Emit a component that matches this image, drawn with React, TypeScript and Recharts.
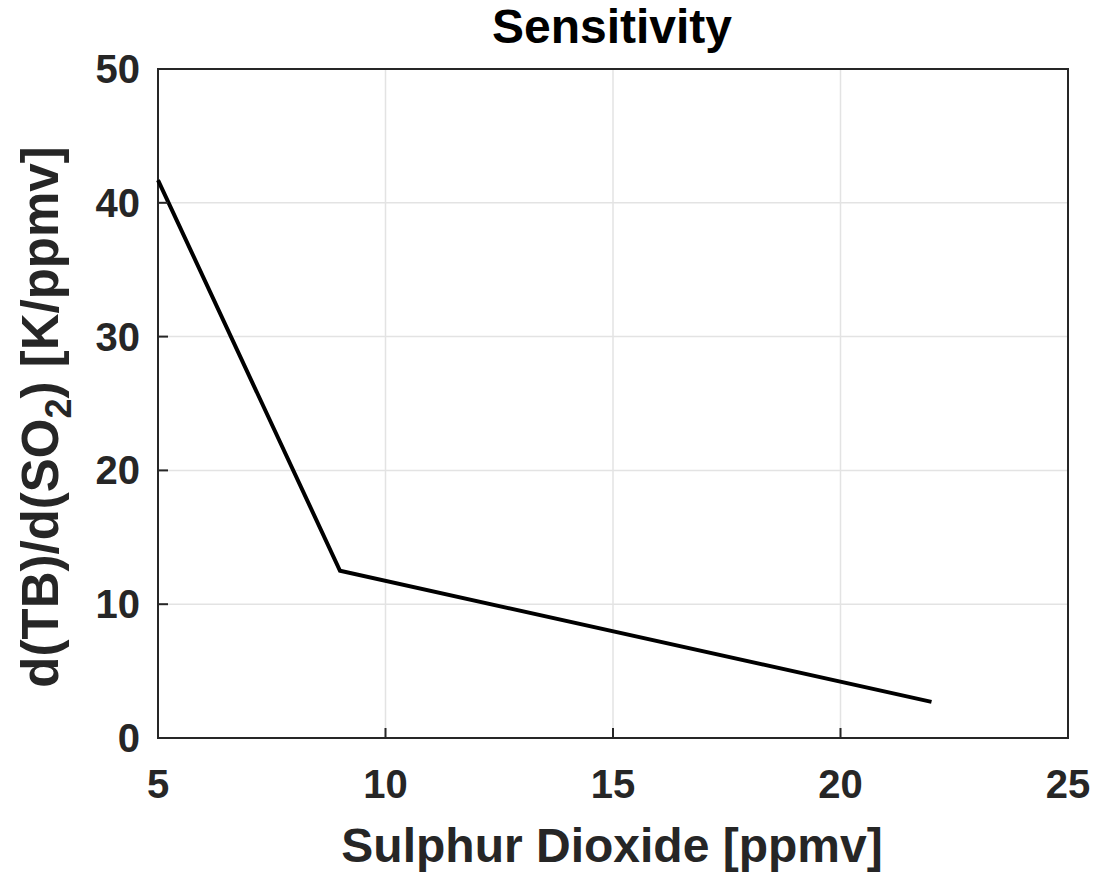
import React from "react";
import {
  LineChart, Line, XAxis, YAxis, CartesianGrid, Customized, ReferenceArea,
} from "recharts";

// values
const so2Ppmv = [5, 9, 22];
const sensitivity = [41.7, 12.5, 2.7];
const xTicks = [5, 10, 15, 20, 25];
const yTicks = [0, 10, 20, 30, 40, 50];

const data = so2Ppmv.map((x, i) => ({ x, y: sensitivity[i] }));

const FONT = '"Liberation Sans", Arial, Helvetica, sans-serif';
const AXIS = "#262626";
const TICK_LEN = 10;

const W = 1098;
const H = 877;
const M = { top: 69, right: 30, left: 158, bottom: 139 };
const PLOT_TOP = M.top;
const PLOT_BOTTOM = H - M.bottom;
const PLOT_LEFT = M.left;
const PLOT_RIGHT = W - M.right;

// MATLAB-style ticks: short marks pointing into the box, labels outside
const BottomTick = ({ payload }: any) => {
  const c = payload.coordinate;
  return (
    <g>
      <line x1={c} x2={c} y1={PLOT_BOTTOM} y2={PLOT_BOTTOM - TICK_LEN} stroke={AXIS} strokeWidth={2} />
      <text x={c} y={PLOT_BOTTOM + 60} textAnchor="middle" fill={AXIS} fontSize={40} fontWeight="bold" fontFamily={FONT}>
        {payload.value}
      </text>
    </g>
  );
};

const LeftTick = ({ payload }: any) => {
  const c = payload.coordinate;
  return (
    <g>
      <line x1={PLOT_LEFT} x2={PLOT_LEFT + TICK_LEN} y1={c} y2={c} stroke={AXIS} strokeWidth={2} />
      <text x={PLOT_LEFT - 18} y={c + 14} textAnchor="end" fill={AXIS} fontSize={40} fontWeight="bold" fontFamily={FONT}>
        {payload.value}
      </text>
    </g>
  );
};

const TopTick = ({ payload }: any) => (
  <line x1={payload.coordinate} x2={payload.coordinate} y1={PLOT_TOP} y2={PLOT_TOP + TICK_LEN} stroke={AXIS} strokeWidth={2} />
);

const RightTick = ({ payload }: any) => (
  <line x1={PLOT_RIGHT} x2={PLOT_RIGHT - TICK_LEN} y1={payload.coordinate} y2={payload.coordinate} stroke={AXIS} strokeWidth={2} />
);

const Texts = () => (
  <g fontFamily={FONT} fontWeight="bold">
    <text x={612} y={43} textAnchor="middle" fontSize={48} fill="#000">
      Sensitivity
    </text>
    <text x={612} y={862} textAnchor="middle" fontSize={48} fill={AXIS}>
      Sulphur Dioxide [ppmv]
    </text>
    <text transform="translate(58,417) rotate(-90)" textAnchor="middle" fontSize={51} fill={AXIS}>
      d(TB)/d(SO<tspan fontSize={36} dy={13}>2</tspan>
      <tspan dy={-13}>) [K/ppmv]</tspan>
    </text>
  </g>
);

export default function App() {
  return (
    <div style={{ position: "absolute", left: 0, top: 0, width: W, height: H, background: "#fff" }}>
      <LineChart width={W} height={H} data={data} margin={{ top: M.top, right: M.right, bottom: 0, left: 0 }}>
        <CartesianGrid xAxisId="b" yAxisId="l" stroke="#e3e3e3" strokeWidth={1.5} />
        <XAxis
          xAxisId="b"
          dataKey="x"
          type="number"
          domain={[5, 25]}
          ticks={xTicks}
          height={M.bottom}
          tickLine={false}
          axisLine={false}
          tick={<BottomTick />}
        />
        <XAxis
          xAxisId="t"
          orientation="top"
          dataKey="x"
          type="number"
          domain={[5, 25]}
          ticks={xTicks}
          height={0}
          tickLine={false}
          axisLine={false}
          tick={<TopTick />}
        />
        <YAxis
          yAxisId="l"
          type="number"
          domain={[0, 50]}
          ticks={yTicks}
          width={M.left}
          tickLine={false}
          axisLine={false}
          tick={<LeftTick />}
        />
        <YAxis
          yAxisId="r"
          orientation="right"
          type="number"
          domain={[0, 50]}
          ticks={yTicks}
          width={0}
          tickLine={false}
          axisLine={false}
          tick={<RightTick />}
        />
        <ReferenceArea
          xAxisId="b"
          yAxisId="l"
          x1={5}
          x2={25}
          y1={0}
          y2={50}
          fill="none"
          stroke={AXIS}
          strokeWidth={2}
          ifOverflow="visible"
        />
        <Line
          xAxisId="b"
          yAxisId="l"
          dataKey="y"
          stroke="#000"
          strokeWidth={4}
          dot={false}
          isAnimationActive={false}
        />
        <Customized component={Texts} />
      </LineChart>
    </div>
  );
}
